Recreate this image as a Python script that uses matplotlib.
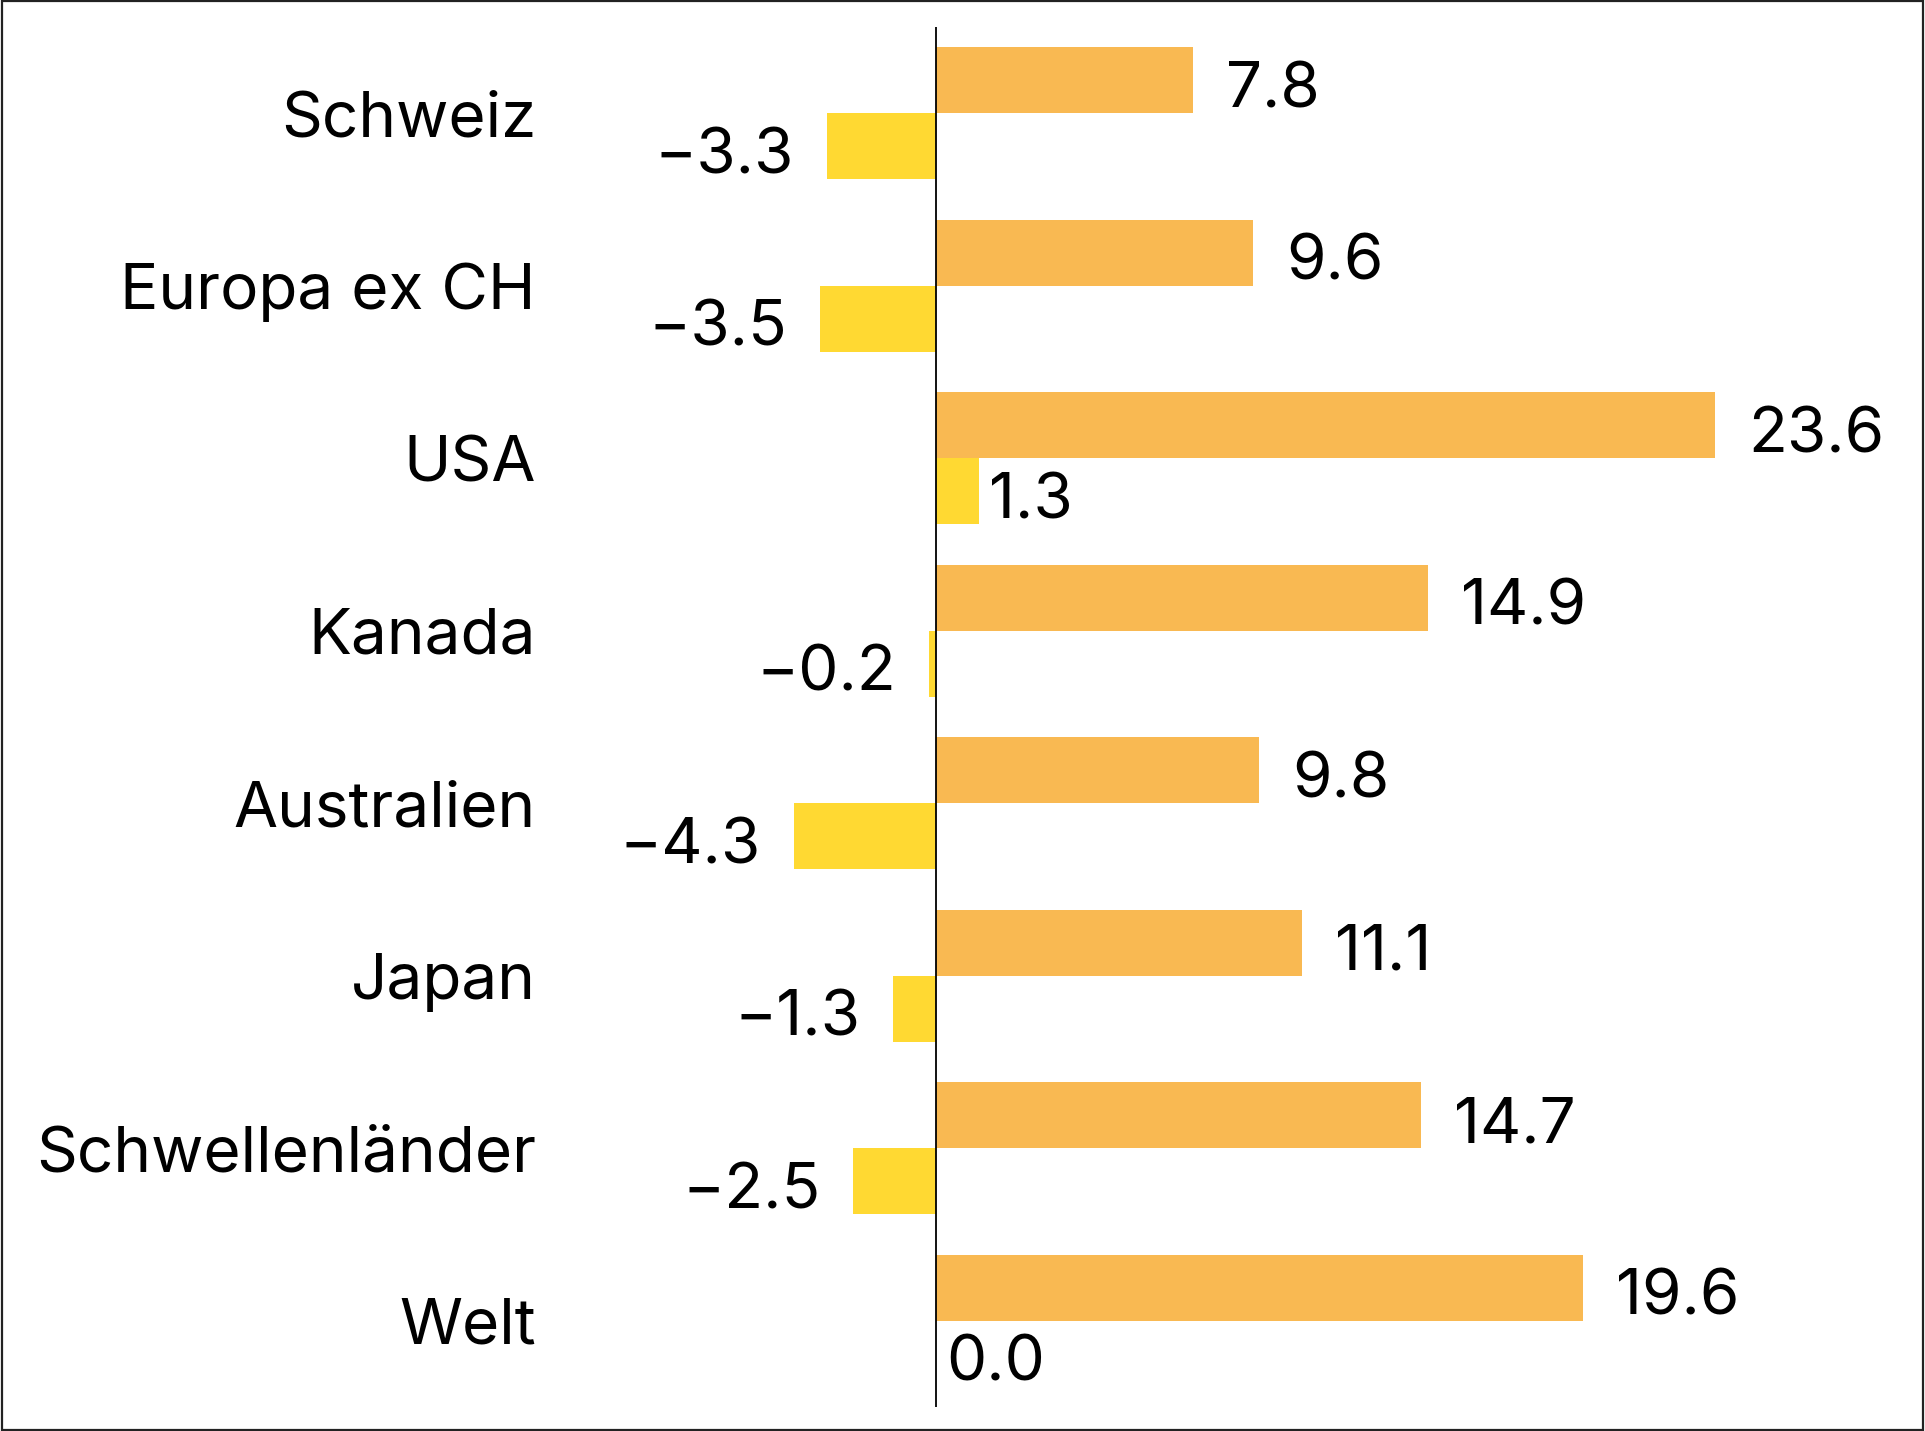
import numpy as np
import matplotlib.pyplot as plt
from matplotlib.patches import Rectangle

plt.rcParams['font.family'] = ['Inter', 'DejaVu Sans']

regionen = ['Schweiz', 'Europa ex CH', 'USA', 'Kanada', 'Australien',
            'Japan', 'Schwellenländer', 'Welt']
werte_a = [7.8, 9.6, 23.6, 14.9, 9.8, 11.1, 14.7, 19.6]    # orange
werte_b = [-3.3, -3.5, 1.3, -0.2, -4.3, -1.3, -2.5, 0.0]  # gelb

farbe_a = '#F9B952'
farbe_b = '#FFD932'

fig = plt.figure(figsize=(19.25, 14.31), dpi=100)
ax = fig.add_axes([536 / 1925, 24 / 1431, 1389 / 1925, 1380 / 1431])

y = np.arange(len(regionen))
h = 0.383
ax.barh(y - h / 2, werte_a, height=h, color=farbe_a)
ax.barh(y + h / 2, werte_b, height=h, color=farbe_b)
ax.axvline(0, color='black', lw=1.3)

fs = 46
dy = 0.06
for i, v in enumerate(werte_a):
    ax.text(v + 1.0, i - h / 2 + dy, f'{v:.1f}', va='center', ha='left', fontsize=fs)
for i, v in enumerate(werte_b):
    if v < 0:
        ax.text(v - 1.0, i + h / 2 + dy, f'{v:.1f}'.replace('-', '\u2212'),
                va='center', ha='right', fontsize=fs)
    else:
        ax.text(v + 0.3, i + h / 2 + dy, f'{v:.1f}', va='center', ha='left', fontsize=fs)

ax.set_xlim(-12.12, 29.97)
ax.set_ylim(len(regionen) - 0.5, -0.5)
ax.set_yticks(y)
ax.set_yticklabels(regionen, fontsize=fs)
ax.tick_params(axis='y', length=0, pad=0)
ax.set_xticks([])
for s in ax.spines.values():
    s.set_visible(False)

fig.patches.append(Rectangle((0.001, 0.001), 0.998, 0.998, transform=fig.transFigure,
                             fill=False, edgecolor='#222222', lw=1.6))

fig.savefig('out.png', dpi=100)
